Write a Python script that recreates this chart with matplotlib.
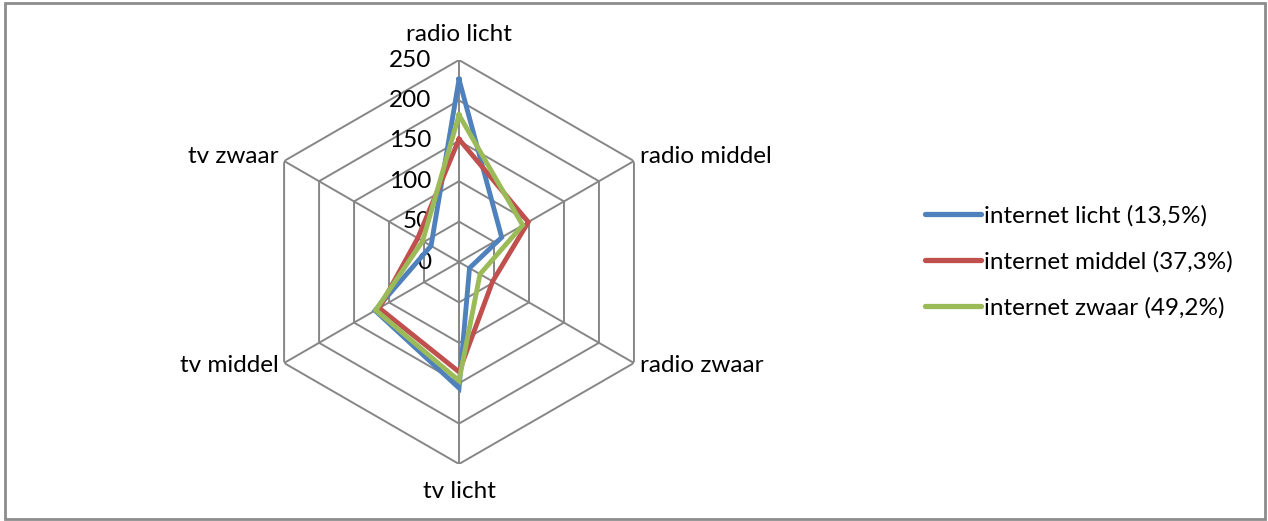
# -*- encoding: utf-8 -*-
# radar chart: internet gebruik vs radio/tv

import numpy as np
import matplotlib
matplotlib.use('Agg')
import matplotlib.pyplot as plt
from matplotlib.patches import Rectangle


categories = ['radio licht', 'radio middel', 'radio zwaar', 'tv licht', 'tv middel', 'tv zwaar']
internet_licht = [226, 61, 15, 156, 120, 40]
internet_middel = [152, 99, 48, 136, 114, 59]
internet_zwaar = [182, 91, 30, 147, 119, 52]
series_labels = ['internet licht (13,5%)', 'internet middel (37,3%)', 'internet zwaar (49,2%)']
ticks = [0, 50, 100, 150, 200, 250]

COLORS = ['#4F81BD', '#C0504D', '#9BBB59']
GRID = '#868686'
FONT = 'Lato'
FS = 17.5

plt.rcParams['font.family'] = [FONT, 'DejaVu Sans']

fig = plt.figure(figsize=(12.68, 5.21), dpi=100)
ax = fig.add_axes([0.2027, 0.1094, 0.3186, 0.7754], projection='polar')
ax.set_theta_zero_location('N')
ax.set_theta_direction(-1)
ax.set_ylim(0, ticks[-1])
ax.grid(False)
ax.spines['polar'].set_visible(False)
ax.set_xticks([])
ax.set_yticks([])
ax.patch.set_alpha(0)

n = len(categories)
angles = np.arange(n) * 2 * np.pi / n
closed = np.append(angles, angles[0])

# hexagon grid and spokes
for t in ticks[1:]:
    ax.plot(closed, [t] * (n + 1), color=GRID, lw=1.4, zorder=1)
for a in angles:
    ax.plot([a, a], [0, ticks[-1]], color=GRID, lw=1.4, zorder=1)

# radial tick labels left of the top spoke
for t in ticks:
    ax.annotate(str(t), xy=(0, t), xytext=(-20, 0), textcoords='offset points',
                ha='right', va='center', fontsize=FS)

# category labels
offsets = [(0, 11, 'center', 'bottom'), (4, 3, 'left', 'center'), (4, -2, 'left', 'center'),
           (0, -12, 'center', 'top'), (-4, -2, 'right', 'center'), (-4, 3, 'right', 'center')]
for a, lab, (dx, dy, ha, va) in zip(angles, categories, offsets):
    ax.annotate(lab, xy=(a, ticks[-1]), xytext=(dx, dy), textcoords='offset points',
                ha=ha, va=va, fontsize=FS, annotation_clip=False)

for vals, lab, c in zip([internet_licht, internet_middel, internet_zwaar], series_labels, COLORS):
    ax.plot(closed, vals + vals[:1], color=c, lw=3.5, label=lab, zorder=3,
            solid_joinstyle='miter')

leg = fig.legend(loc='center left', bbox_to_anchor=(0.712, 0.497), frameon=False,
                 fontsize=FS, handlelength=2.3, handletextpad=0.12, labelspacing=1.0)
for h in leg.get_lines():
    h.set_linewidth(3.8)
    h.set_solid_capstyle('round')

fig.patches.append(Rectangle((0.004, 0.003), 0.994, 0.991, transform=fig.transFigure,
                             fill=False, edgecolor='#8c8c8c', lw=2))

fig.savefig('out.png', dpi=100)
